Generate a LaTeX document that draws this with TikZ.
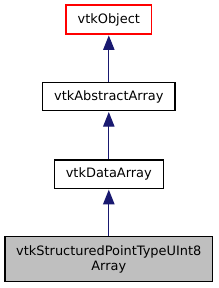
\documentclass[tikz,border=0pt]{standalone}
\usepackage{fontspec}
\setmainfont{DejaVu Sans}
\usetikzlibrary{arrows.meta}
\definecolor{edgeblue}{HTML}{191970}
\definecolor{nodegray}{HTML}{BFBFBF}
\begin{document}
\begin{tikzpicture}[x=0.75pt,y=-0.75pt,
  cls/.style={draw=black, fill=white, line width=1pt, inner sep=0pt,
    font=\fontsize{9.7}{10.9}\selectfont, align=center},
  edge/.style={draw=edgeblue, line width=1pt,
    -{Triangle[length=11pt,width=8.5pt]}, shorten >=0.5pt}]
\path[fill=white] (0,0) rectangle (218,288);
\useasboundingbox (0,0) rectangle (218,288);
\node[cls, draw=red, minimum width=64.3pt, minimum height=21.75pt] (obj) at (108.8,19.5) {vtkObject};
\node[cls, minimum width=99.2pt, minimum height=21.3pt] (abs) at (108.8,96.5) {vtkAbstractArray};
\node[cls, minimum width=81.75pt, minimum height=21.2pt] (data) at (108.8,174.2) {vtkDataArray};
\node[cls, fill=nodegray, minimum width=155.8pt, minimum height=33.75pt] (sp) at (108.8,259.2) {vtkStructuredPointTypeUInt8\\Array};
\draw[edge] (abs) -- (obj);
\draw[edge] (data) -- (abs);
\draw[edge] (sp) -- (data);
\end{tikzpicture}
\end{document}
